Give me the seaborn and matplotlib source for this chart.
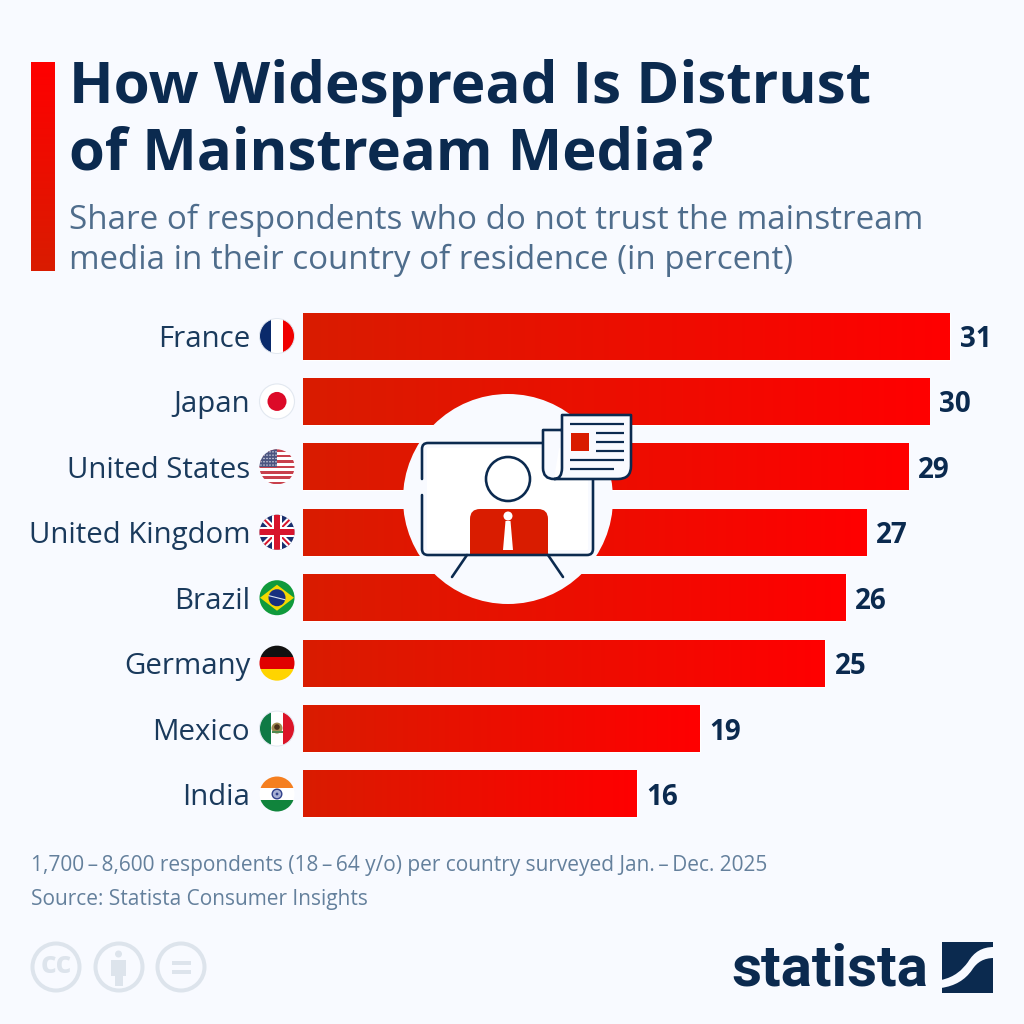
import numpy as np
import pandas as pd
import matplotlib
matplotlib.use('Agg')
import matplotlib.pyplot as plt
from matplotlib.colors import LinearSegmentedColormap
from matplotlib.patches import Circle, FancyBboxPatch, PathPatch, Polygon, Rectangle
from matplotlib.path import Path
from matplotlib.transforms import ScaledTranslation
import seaborn as sns

countries = ['France', 'Japan', 'United States', 'United Kingdom', 'Brazil', 'Germany', 'Mexico', 'India']
shares = [31, 30, 29, 27, 26, 25, 19, 16]
title_lines = ['How Widespread Is Distrust', 'of Mainstream Media?']
subtitle_lines = ['Share of respondents who do not trust the mainstream',
                  'media in their country of residence (in percent)']
note = '1,700\u2009\u2013\u20098,600 respondents (18\u2009\u2013\u200964 y/o) per country surveyed Jan.\u2009\u2013\u2009Dec. 2025'
source = 'Source: Statista Consumer Insights'

BG = '#f8faff'
NAVY = '#0b2a4f'
RED = '#d91c00'
sns.set_theme(style='white')
plt.rcParams['font.family'] = ['Open Sans', 'DejaVu Sans']

fig = plt.figure(figsize=(10.24, 10.24), dpi=100, facecolor=BG)


def frame(left, top, right, bottom):
    return [left / 1024, 1 - bottom / 1024, (right - left) / 1024, (bottom - top) / 1024]


ax = fig.add_axes(frame(303, 303.3, 1024, 826.7), facecolor='none')
df = pd.DataFrame({'Country': countries, 'Share': shares})
sns.barplot(data=df, x='Share', y='Country', orient='h', color=RED, width=0.718, saturation=1, ax=ax)
ax.set_xlim(0, 721 / 20.87)
ax.set_ylim(7.5, -0.5)
ax.set_xlabel('')
ax.set_ylabel('')
ax.set_xticks([])
sns.despine(ax=ax, left=True, bottom=True)
ax.tick_params(axis='y', length=0, pad=38, labelsize=21.2, labelcolor='#1a3a5c')
vals = ax.bar_label(ax.containers[0], fmt='%d', padding=7, fontsize=20, fontweight='bold', color=NAVY)
for t in vals:
    t.set_va('center_baseline')

# bars fade from dark red to pure red
bar_cmap = LinearSegmentedColormap.from_list('bar', [RED, '#ff0000'])
for p in ax.patches:
    im = ax.imshow(np.linspace(0, 1, 512).reshape(1, -1), cmap=bar_cmap, aspect='auto', zorder=3,
                   interpolation='bilinear',
                   extent=[p.get_x(), p.get_x() + p.get_width(), p.get_y() + p.get_height(), p.get_y()])
    im.set_clip_path(p)
ax.set_xlim(0, 721 / 20.87)
ax.set_ylim(7.5, -0.5)

# overlay in pixel coordinates for header, icons and footer
ov = fig.add_axes([0, 0, 1, 1], facecolor='none')
ov.set_xlim(0, 1024)
ov.set_ylim(1024, 0)
ov.axis('off')
PX = 0.72


def txt(x, y, s, **kw):
    ov.text(x, y, s, va='center', ha=kw.pop('ha', 'left'), **kw)


head_cmap = LinearSegmentedColormap.from_list('head', ['#ff0000', RED])
ov.imshow(np.linspace(0, 1, 256).reshape(-1, 1), cmap=head_cmap, aspect='auto', extent=[31, 55, 271, 62])
ov.set_xlim(0, 1024)
ov.set_ylim(1024, 0)

txt(69, 88, title_lines[0], fontsize=42, fontweight='bold', color=NAVY)
txt(69, 154, title_lines[1], fontsize=41.7, fontweight='bold', color=NAVY)
txt(69, 220, subtitle_lines[0], fontsize=23.9, color='#4f6d8c')
txt(69, 260, subtitle_lines[1], fontsize=23.8, color='#4f6d8c')
txt(31, 866, note, fontsize=15, color='#64809c')
txt(31, 899, source, fontsize=15, color='#64809c')


# flags
def flag_clip(cx, cy, r=17.5):
    c = Circle((cx, cy), r, transform=ov.transData)
    return c


def rect(clip, x, y, w, h, color, z=5):
    r = Rectangle((x, y), w, h, fc=color, ec='none', zorder=z)
    ov.add_patch(r)
    r.set_clip_path(clip)
    return r


def line(clip, x0, y0, x1, y1, color, lw, z=6):
    l, = ov.plot([x0, x1], [y0, y1], color=color, lw=lw * PX, zorder=z, solid_capstyle='butt')
    l.set_clip_path(clip)


def ring(cx, cy, color='#e2e8f0'):
    ov.add_patch(Circle((cx, cy), 17.5, fc='none', ec=color, lw=0.7, zorder=8))


def france(cx, cy):
    c = flag_clip(cx, cy)
    rect(c, cx - 18, cy - 18, 12, 36, '#0a2a6b')
    rect(c, cx - 6, cy - 18, 12, 36, '#ffffff')
    rect(c, cx + 6, cy - 18, 12, 36, '#f00000')
    ring(cx, cy)


def japan(cx, cy):
    ov.add_patch(Circle((cx, cy), 17.5, fc='#ffffff', ec='#e2e8f0', lw=0.8, zorder=5))
    ov.add_patch(Circle((cx, cy), 9.5, fc='#dc0a28', ec='none', zorder=6))


def usa(cx, cy):
    c = flag_clip(cx, cy)
    rect(c, cx - 18, cy - 18, 36, 36, '#ffffff')
    for i in range(0, 13, 2):
        rect(c, cx - 18, cy - 17.5 + i * 2.7, 36, 2.7, '#c8404c', 6)
    rect(c, cx - 18, cy - 18, 18, 18.5, '#4c5580', 7)
    for i in range(5):
        for j in range(6):
            d = Circle((cx - 16 + j * 3, cy - 15 + i * 3.3), 0.7, fc='#e8e8f2', ec='none', zorder=8)
            ov.add_patch(d)
            d.set_clip_path(c)


def uk(cx, cy):
    c = flag_clip(cx, cy)
    rect(c, cx - 18, cy - 18, 36, 36, '#1a2f6e')
    for s in (1, -1):
        line(c, cx - 18, cy - 18 * s, cx + 18, cy + 18 * s, '#ffffff', 6)
        line(c, cx - 18, cy - 18 * s, cx + 18, cy + 18 * s, '#d8142c', 2)
    line(c, cx, cy - 18, cx, cy + 18, '#ffffff', 10, 7)
    line(c, cx - 18, cy, cx + 18, cy, '#ffffff', 10, 7)
    line(c, cx, cy - 18, cx, cy + 18, '#d8142c', 6, 8)
    line(c, cx - 18, cy, cx + 18, cy, '#d8142c', 6, 8)


def brazil(cx, cy):
    c = flag_clip(cx, cy)
    rect(c, cx - 18, cy - 18, 36, 36, '#109a3c')
    d = Polygon([(cx - 17, cy), (cx, cy - 13), (cx + 17, cy), (cx, cy + 13)], fc='#f5d800', ec='none', zorder=6)
    ov.add_patch(d)
    d.set_clip_path(c)
    ov.add_patch(Circle((cx, cy), 8.5, fc='#17307f', ec='none', zorder=7))
    ov.plot([cx - 8, cx + 8], [cy - 2, cy + 2], color='#d8e4f0', lw=0.8, zorder=8)


def germany(cx, cy):
    c = flag_clip(cx, cy)
    rect(c, cx - 18, cy - 18, 36, 12, '#111111')
    rect(c, cx - 18, cy - 6, 36, 12, '#e00000')
    rect(c, cx - 18, cy + 6, 36, 12, '#ffd400')


def mexico(cx, cy):
    c = flag_clip(cx, cy)
    rect(c, cx - 18, cy - 18, 12, 36, '#0f7a45')
    rect(c, cx - 6, cy - 18, 12, 36, '#ffffff')
    rect(c, cx + 6, cy - 18, 12, 36, '#dc1428')
    ov.add_patch(Circle((cx, cy - 0.5), 5.5, fc='#a08a50', ec='none', zorder=7))
    ov.add_patch(Circle((cx, cy - 1.5), 2.8, fc='#4a3018', ec='none', zorder=8))
    ov.add_patch(Rectangle((cx - 5.5, cy + 2.5), 11, 2, fc='#4f8a50', ec='none', zorder=8))
    ring(cx, cy)


def india(cx, cy):
    c = flag_clip(cx, cy)
    rect(c, cx - 18, cy - 18, 36, 12, '#f57f20')
    rect(c, cx - 18, cy - 6, 36, 12, '#ffffff')
    rect(c, cx - 18, cy + 6, 36, 12, '#10843c')
    ov.add_patch(Circle((cx, cy), 4.8, fc='#a8b0d4', ec='#30408a', lw=1.0, zorder=7))
    ov.add_patch(Circle((cx, cy), 1.4, fc='#30408a', ec='none', zorder=8))


flags = [france, japan, usa, uk, brazil, germany, mexico, india]
for i, draw in enumerate(flags):
    draw(277, 336 + i * 65.43)

# monitor and newspaper icon over the bars
ov.add_patch(Circle((508, 499), 105, fc=BG, ec='none', zorder=10))
ov.add_patch(FancyBboxPatch((427, 448), 161, 102, boxstyle='round,pad=0,rounding_size=1', fc='#ffffff', ec='none', zorder=11,
                            mutation_aspect=1))
ov.add_patch(FancyBboxPatch((470, 509), 78, 46, boxstyle='round,pad=0,rounding_size=10', fc=RED, ec='none', zorder=12))
ov.add_patch(Rectangle((470, 535), 78, 20, fc=RED, ec='none', zorder=12))
ov.add_patch(Polygon([(505.5, 521), (510.5, 521), (513, 550), (503, 550)], fc='#ffffff', ec='none', zorder=13))
ov.add_patch(Circle((508, 516), 4.5, fc='#ffffff', ec='none', zorder=13))
ov.add_patch(Circle((508, 479), 22, fc='none', ec=NAVY, lw=2.6 * PX, zorder=13))

mon = Path([(422, 479), (422, 449), (422, 443), (428, 443), (543, 443), (593, 479), (593, 549), (593, 555), (587, 555),
            (428, 555), (422, 555), (422, 549), (422, 495)],
           [Path.MOVETO, Path.LINETO, Path.CURVE3, Path.CURVE3, Path.LINETO, Path.MOVETO, Path.LINETO, Path.CURVE3,
            Path.CURVE3, Path.LINETO, Path.CURVE3, Path.CURVE3, Path.LINETO])
ov.add_patch(PathPatch(mon, fc='none', ec=NAVY, lw=2.6 * PX, zorder=14, capstyle='round'))
ov.plot([467, 452], [555, 577], color=NAVY, lw=2.6 * PX, zorder=14, solid_capstyle='round')
ov.plot([548, 563], [555, 577], color=NAVY, lw=2.6 * PX, zorder=14, solid_capstyle='round')

paper = Path([(562, 430), (543, 430), (543, 468), (543, 479), (554, 479), (618, 479), (631, 479), (631, 466),
              (631, 415), (562, 415), (562, 468), (562, 479), (554, 479)],
             [Path.MOVETO, Path.LINETO, Path.LINETO, Path.CURVE3, Path.CURVE3, Path.LINETO, Path.CURVE3, Path.CURVE3,
              Path.LINETO, Path.LINETO, Path.LINETO, Path.CURVE3, Path.CURVE3])
ov.add_patch(PathPatch(paper, fc=BG, ec=NAVY, lw=2.6 * PX, zorder=15, joinstyle='round'))
ov.add_patch(Rectangle((571, 433), 18, 18, fc=RED, ec='none', zorder=16))
for x0, x1, y in [(570, 624, 424), (596, 624, 433), (596, 624, 442), (596, 624, 451), (570, 624, 460), (570, 614, 469)]:
    ov.plot([x0, x1], [y, y], color=NAVY, lw=2.2 * PX, zorder=16, solid_capstyle='butt')

# licence badges
for x in (56, 119, 181):
    ov.add_patch(Circle((x, 967), 23.5, fc='none', ec='#dde4ec', lw=4 * PX))
txt(56, 965, 'cc', ha='center', fontsize=22, fontweight='bold', color='#dde4ec')
ov.add_patch(Circle((118.5, 954), 3.5, fc='#dde4ec', ec='none'))
ov.add_patch(Rectangle((111, 960), 15, 16, fc='#dde4ec', ec='none'))
ov.add_patch(Rectangle((114.5, 976), 8, 10, fc='#dde4ec', ec='none'))
ov.add_patch(Rectangle((172, 961), 19, 4, fc='#dde4ec', ec='none'))
ov.add_patch(Rectangle((172, 970), 19, 4, fc='#dde4ec', ec='none'))

# logo
txt(731, 970, 'statista', fontsize=42, fontweight='bold', color=NAVY, family=['Roboto', 'DejaVu Sans'])
ov.add_patch(Rectangle((942, 942), 51, 51, fc=NAVY, ec='none'))
swoosh = Path([(941, 980), (955, 977), (962, 970), (968, 962), (974, 952), (982, 947), (994, 947),
               (994, 958), (984, 958), (977, 962), (972, 970), (965, 980), (955, 986), (941, 988), (941, 980)],
              [Path.MOVETO, Path.CURVE4, Path.CURVE4, Path.CURVE4, Path.CURVE4, Path.CURVE4, Path.CURVE4,
               Path.LINETO, Path.CURVE4, Path.CURVE4, Path.CURVE4, Path.CURVE4, Path.CURVE4, Path.CURVE4, Path.CLOSEPOLY])
ov.add_patch(PathPatch(swoosh, fc=BG, ec='none'))

fig.savefig('out.png', dpi=100, facecolor=BG)
